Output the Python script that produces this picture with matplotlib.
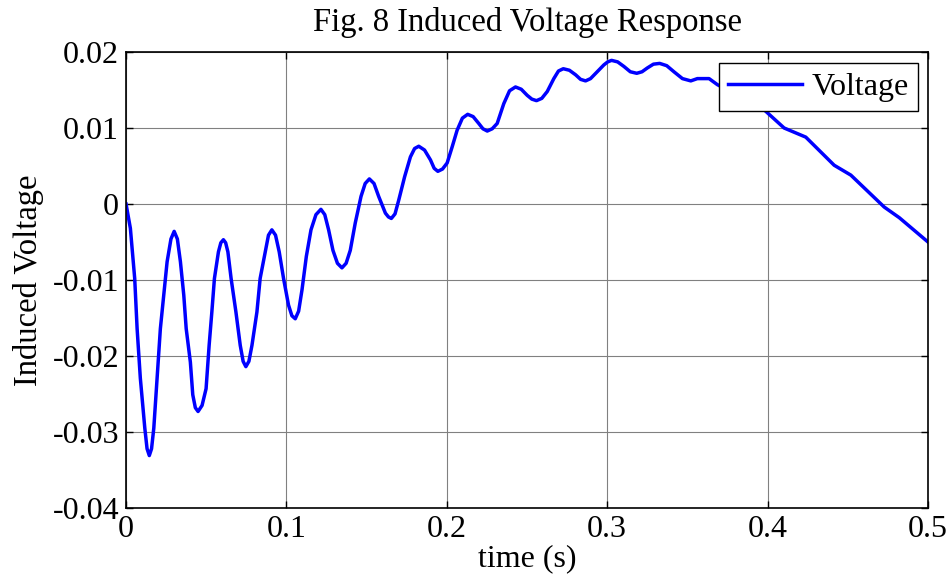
import matplotlib
matplotlib.use('Agg')
import matplotlib.pyplot as plt

# points
t = [0.0000, 0.0027, 0.0054, 0.0069, 0.0089, 0.0117, 0.0131, 0.0145, 0.0159, 0.0173,
     0.0194, 0.0214, 0.0235, 0.0256, 0.0280, 0.0300, 0.0320, 0.0339, 0.0360, 0.0375,
     0.0401, 0.0416, 0.0432, 0.0449, 0.0474, 0.0499, 0.0518, 0.0535, 0.0551, 0.0576,
     0.0591, 0.0607, 0.0621, 0.0635, 0.0655, 0.0685, 0.0712, 0.0730, 0.0747, 0.0766,
     0.0785, 0.0816, 0.0836, 0.0868, 0.0888, 0.0909, 0.0932, 0.0955, 0.0982, 0.1013,
     0.1034, 0.1055, 0.1076, 0.1097, 0.1124, 0.1153, 0.1184, 0.1215, 0.1239, 0.1263,
     0.1290, 0.1318, 0.1346, 0.1372, 0.1398, 0.1429, 0.1465, 0.1491, 0.1517, 0.1546,
     0.1575, 0.1617, 0.1636, 0.1654, 0.1677, 0.1700, 0.1737, 0.1773, 0.1799, 0.1825,
     0.1861, 0.1898, 0.1921, 0.1944, 0.1973, 0.2002, 0.2033, 0.2064, 0.2097, 0.2130,
     0.2164, 0.2199, 0.2225, 0.2252, 0.2283, 0.2314, 0.2355, 0.2391, 0.2428, 0.2464,
     0.2501, 0.2530, 0.2559, 0.2592, 0.2626, 0.2667, 0.2696, 0.2726, 0.2764, 0.2803,
     0.2834, 0.2865, 0.2896, 0.2928, 0.2979, 0.3003, 0.3027, 0.3065, 0.3104, 0.3144,
     0.3184, 0.3217, 0.3250, 0.3288, 0.3327, 0.3371, 0.3416, 0.3469, 0.3521, 0.3562,
     0.3635, 0.3687, 0.3833, 0.3978, 0.4103, 0.4238, 0.4415, 0.4519, 0.4727, 0.4821,
     0.5000]
voltage = [0.0000, -0.0032, -0.0098, -0.0164, -0.0229, -0.0295, -0.0322, -0.0331, -0.0322, -0.0295,
           -0.0229, -0.0164, -0.0120, -0.0076, -0.0046, -0.0036, -0.0046, -0.0076, -0.0120, -0.0164,
           -0.0208, -0.0251, -0.0268, -0.0273, -0.0265, -0.0243, -0.0186, -0.0142, -0.0098, -0.0063,
           -0.0051, -0.0047, -0.0051, -0.0063, -0.0098, -0.0142, -0.0186, -0.0207, -0.0214, -0.0207,
           -0.0186, -0.0142, -0.0098, -0.0063, -0.0041, -0.0034, -0.0041, -0.0063, -0.0098, -0.0133,
           -0.0147, -0.0151, -0.0141, -0.0113, -0.0069, -0.0034, -0.0014, -0.0007, -0.0014, -0.0034,
           -0.0061, -0.0078, -0.0084, -0.0078, -0.0061, -0.0025, 0.0010, 0.0027, 0.0033, 0.0027,
           0.0010, -0.0012, -0.0017, -0.0019, -0.0013, 0.0005, 0.0036, 0.0062, 0.0073, 0.0076,
           0.0071, 0.0058, 0.0047, 0.0043, 0.0046, 0.0054, 0.0075, 0.0097, 0.0113, 0.0118,
           0.0115, 0.0106, 0.0099, 0.0096, 0.0099, 0.0106, 0.0132, 0.0149, 0.0154, 0.0151,
           0.0143, 0.0138, 0.0136, 0.0139, 0.0148, 0.0165, 0.0175, 0.0178, 0.0176, 0.0170,
           0.0164, 0.0162, 0.0165, 0.0172, 0.0183, 0.0187, 0.0189, 0.0187, 0.0181, 0.0174,
           0.0172, 0.0174, 0.0179, 0.0184, 0.0185, 0.0182, 0.0174, 0.0165, 0.0162, 0.0165,
           0.0165, 0.0157, 0.0141, 0.0124, 0.0100, 0.0088, 0.0051, 0.0038, -0.0004, -0.0018,
           -0.0050]

xticks = [0, 0.1, 0.2, 0.3, 0.4, 0.5]
xticklabels = ['0', '0.1', '0.2', '0.3', '0.4', '0.5']
yticks = [-0.04, -0.03, -0.02, -0.01, 0, 0.01, 0.02]
yticklabels = ['-0.04', '-0.03', '-0.02', '-0.01', '0', '0.01', '0.02']

plt.rcParams['font.family'] = ['Liberation Serif', 'DejaVu Serif']

fig = plt.figure(figsize=(9.52, 5.85), dpi=100)
ax = fig.add_axes([0.1324, 0.1316, 0.8424, 0.7795])

ax.plot(t, voltage, color='#0000ff', linewidth=2.5, label='Voltage')

ax.set_xlim(0, 0.5)
ax.set_ylim(-0.04, 0.02)
ax.set_xticks(xticks)
ax.set_xticklabels(xticklabels)
ax.set_yticks(yticks)
ax.set_yticklabels(yticklabels)
ax.grid(True, color='#808080', linewidth=0.8)
ax.tick_params(direction='in', length=5, width=1, top=True, right=True,
               labelsize=23, pad=5)
for sp in ax.spines.values():
    sp.set_linewidth(1.2)

ax.set_title('Fig. 8 Induced Voltage Response', fontsize=23.5, pad=15)
ax.set_xlabel('time (s)', fontsize=23, labelpad=0)
ax.set_ylabel('Induced Voltage', fontsize=23.5, labelpad=6)

leg = ax.legend(loc='upper right', bbox_to_anchor=(0.9875, 0.976),
                borderaxespad=0, fontsize=23, fancybox=False,
                handlelength=2.3, handletextpad=0.3, borderpad=0.3,
                framealpha=1)
leg.get_frame().set_edgecolor('black')
leg.get_frame().set_linewidth(1.0)

fig.savefig('out.png', dpi=100)
